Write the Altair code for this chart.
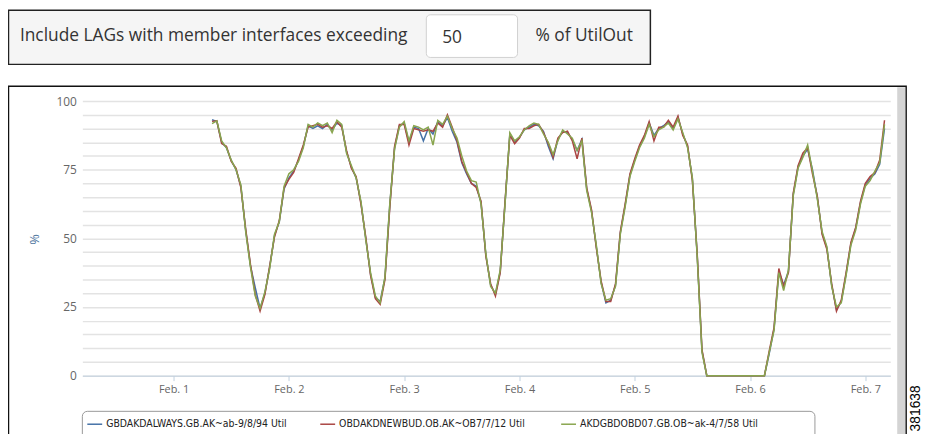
import altair as alt
import pandas as pd

# ---------------- data ----------------
series_names = [
    "GBDAKDALWAYS.GB.AK~ab-9/8/94 Util",
    "OBDAKDNEWBUD.OB.AK~OB7/7/12 Util",
    "AKDGBDOBD07.GB.OB~ak-4/7/58 Util",
]
series_colors = ["#4572A7", "#AA4643", "#89A54E"]

start_time = "2016-02-01 08:00"   # first sample, hourly samples

blue = [
    93.2, 92.5, 85, 83, 78.3, 75, 69, 53, 40, 32, 24.5, 30, 39.5, 51, 56, 68,
    72, 74.5, 78.5, 83.5, 91, 90, 91, 90, 91.5, 89.5, 92, 91, 81.5, 76, 72, 63, 50, 37, 28.5, 27, 35.6, 62, 83, 91,
    92, 85, 90.5, 90, 85.5, 90, 88, 92.5, 91, 94, 89, 85, 77.5, 73.5, 70, 69, 63, 44, 33, 29.6, 38, 63, 88, 85,
    86.8, 89.5, 90.5, 91.5, 91, 89, 83.5, 79, 86, 89, 88.5, 86, 82, 86, 68, 60, 47, 34, 26.5, 27.5, 33, 52, 62, 73,
    78.5, 83.5, 87, 92, 87.5, 90, 91, 92.5, 90, 94, 88, 83.5, 71.7, 44, 9, 0, 0, 0, 0, 0, 0, 0, 0, 0,
    0, 0, 0, 0, 8, 17, 38, 33, 38, 66, 76, 80, 82.5, 75, 65, 52, 46.5, 33, 24, 27, 37, 48, 53.7, 63, 69.5, 71.8, 73.5, 77, 90,
]
red = [
    92.6, 92.8, 84.5, 83.5, 78, 75.5, 68.5, 53.5, 40.5, 29.5, 23.5, 29.5, 40, 50.5, 56.5, 68.5,
    71.5, 74, 79, 84, 90.5, 91, 91.5, 90.5, 91, 90, 92.5, 90.5, 82, 75.5, 72.5, 62.5, 50.5, 36.5, 28, 26, 35, 61, 83.5, 91.5,
    91.5, 84, 90, 89.5, 89, 89.5, 89, 92, 90.5, 95, 90.5, 85.5, 78, 74, 70, 68.5, 63.5, 43.5, 33.5, 29, 37.5, 63.5, 87.5, 84.5,
    86.5, 90, 90, 91, 91.5, 88.5, 84.5, 79.5, 86.5, 88.5, 89, 85.5, 79, 86.5, 68.5, 60.5, 46.5, 34.5, 27, 27, 33.5, 52.5, 62.5, 73.5,
    79, 84, 87.5, 92.5, 85.5, 90.5, 90.5, 93, 90.5, 94.5, 87.5, 84, 71, 44.5, 9.5, 0, 0, 0, 0, 0, 0, 0, 0, 0,
    0, 0, 0, 0, 9, 17.5, 39, 32.5, 37.5, 66.5, 76.5, 81, 83, 73.5, 65.5, 51.5, 46, 33.5, 23.5, 27.5, 37.5, 48.5, 54, 63.5, 70, 72.5, 74, 78.5, 93,
]
green = [
    91.8, 92.8, 85.5, 83, 78.5, 75, 69.5, 52.5, 39.5, 29, 24.5, 30.5, 39, 51.5, 56, 69,
    73.5, 75, 78, 83, 91.5, 90.5, 92, 91, 92, 88.5, 93, 91.5, 81, 76.5, 72, 63.5, 49.5, 37.5, 29, 26.5, 36, 62.5, 82.5, 90.5,
    92.5, 85.5, 91, 90.5, 89.5, 90.5, 84, 93, 91.5, 94.5, 90, 86.5, 80, 74.5, 71, 70.5, 62.5, 44.5, 32.5, 30, 38.5, 62.5, 88.5, 85.5,
    87, 89.5, 91, 92, 91.5, 88, 85, 80.5, 85.5, 89.5, 88, 86.5, 82, 85.5, 67.5, 59.5, 47.5, 33.5, 27.5, 28, 32.5, 51.5, 61.5, 72.5,
    78, 83, 86.5, 91.5, 87, 89.5, 90.5, 92, 89.5, 93.5, 88.5, 83, 72, 43.5, 8.5, 0, 0, 0, 0, 0, 0, 0, 0, 0,
    0, 0, 0, 0, 8.5, 16.5, 37.5, 31, 38.5, 65.5, 75.5, 79.5, 84, 74.5, 64.5, 52.5, 47, 32.5, 25, 26.5, 36.5, 47.5, 53, 62.5, 69, 71, 74.5, 77.5, 91.5,
]
series_values = [blue, red, green]

y_tick_values = list(range(0, 101, 5))
x_tick_days = [1, 2, 3, 4, 5, 6, 7]

filter_label = "Include LAGs with member interfaces exceeding"
filter_value = "50"
filter_unit = "% of UtilOut"
figure_id = "381638"

# ---------------- scales / axes ----------------
x_scale = alt.Scale(domain=[alt.DateTime(year=2016, month=1, date=31, hours=5),
                            alt.DateTime(year=2016, month=2, date=7, hours=5, minutes=12)])
y_scale = alt.Scale(domain=[0, 100], nice=False, zero=True)

x_axis = alt.Axis(
    values=[alt.DateTime(year=2016, month=2, date=d) for d in x_tick_days],
    format="%b. %-d", title=None, grid=False,
    domainColor="#C0D0E0", domainWidth=1, tickColor="#C0D0E0", tickSize=5,
    labelColor="#666666", labelFontSize=11, labelFont="Open Sans", labelPadding=3,
)
y_axis = alt.Axis(
    values=y_tick_values,
    labelExpr="datum.value % 25 == 0 ? datum.label : ''",
    grid=True, gridColor="#e3e3e3", gridWidth=1.5, domain=False, ticks=False,
    labelColor="#666666", labelFontSize=12, labelFont="Open Sans", labelPadding=6,
    title="%", titleColor="#4d759e", titleFontWeight="normal", titleFontSize=13,
    titleFont="Open Sans", titleAngle=270, titleX=-41, titleY=139,
)

line_layers = []
for name, vals, col in zip(series_names, series_values, series_colors):
    df = pd.DataFrame({
        "time": pd.date_range(start_time, periods=len(vals), freq="h"),
        "value": vals,
        "series": name,
    })
    line_layers.append(
        alt.Chart(df).mark_line(strokeWidth=1.5, color=col).encode(
            x=alt.X("time:T", scale=x_scale, axis=x_axis),
            y=alt.Y("value:Q", scale=y_scale, axis=y_axis),
        )
    )

# ---------------- decorations ----------------
dummy = alt.Chart(pd.DataFrame({"k": [0]}))

control_box = dummy.mark_rect(fill="#f5f5f5", stroke="#222222", strokeWidth=1.5).encode(
    x=alt.value(-74.5), x2=alt.value(573), y=alt.value(-91.5), y2=alt.value(-37))
input_box = dummy.mark_rect(fill="white", stroke="#d0d0d0", strokeWidth=1, cornerRadius=4).encode(
    x=alt.value(347), x2=alt.value(439), y=alt.value(-87), y2=alt.value(-44))
label_txt = dummy.mark_text(align="left", baseline="middle", font="Open Sans", fontSize=17.5, color="#333333").encode(
    x=alt.value(-63), y=alt.value(-66), text=alt.value(filter_label))
value_txt = dummy.mark_text(align="left", baseline="middle", font="Open Sans", fontSize=17.5, color="#333333").encode(
    x=alt.value(363), y=alt.value(-64), text=alt.value(filter_value))
unit_txt = dummy.mark_text(align="left", baseline="middle", font="Open Sans", fontSize=17.5, color="#333333").encode(
    x=alt.value(457), y=alt.value(-66), text=alt.value(filter_unit))

frame = dummy.mark_rect(fillOpacity=0, stroke="#111111", strokeWidth=1.5).encode(
    x=alt.value(-74.5), x2=alt.value(831), y=alt.value(-15), y2=alt.value(360))
scrollbar = dummy.mark_rect(fill="#d4d4d4").encode(
    x=alt.value(822), x2=alt.value(830), y=alt.value(-14), y2=alt.value(360))
fig_id = dummy.mark_text(angle=270, align="center", baseline="middle", font="Liberation Sans",
                         fontSize=14, color="#000000").encode(
    x=alt.value(841), y=alt.value(310), text=alt.value(figure_id))

legend_box = dummy.mark_rect(fillOpacity=0, stroke="#999999", strokeWidth=1, cornerRadius=5).encode(
    x=alt.value(0), x2=alt.value(739), y=alt.value(313), y2=alt.value(360))
legend_layers = []
legend_x = [5, 240, 483]
for name, col, lx in zip(series_names, series_colors, legend_x):
    legend_layers.append(dummy.mark_rule(strokeWidth=1.5, color=col).encode(
        x=alt.value(lx), x2=alt.value(lx + 15), y=alt.value(326)))
    legend_layers.append(dummy.mark_text(
        align="left", baseline="middle", fontSize=10.5, color="#222222",
        font="'Liberation Sans Narrow', 'DejaVu Sans Condensed', 'Liberation Sans'").encode(
        x=alt.value(lx + 19), y=alt.value(326), text=alt.value(name)))

chart = alt.layer(
    control_box, input_box, label_txt, value_txt, unit_txt,
    frame, scrollbar, fig_id, legend_box,
    *line_layers, *legend_layers,
).properties(
    width=815, height=277,
    autosize=alt.AutoSizeParams(type="none"),
    padding={"left": 75, "top": 92, "right": 32, "bottom": 57},
    background="white",
).configure_view(strokeWidth=0)

chart.save("out.html", embed_options={"renderer": "svg", "actions": False})
